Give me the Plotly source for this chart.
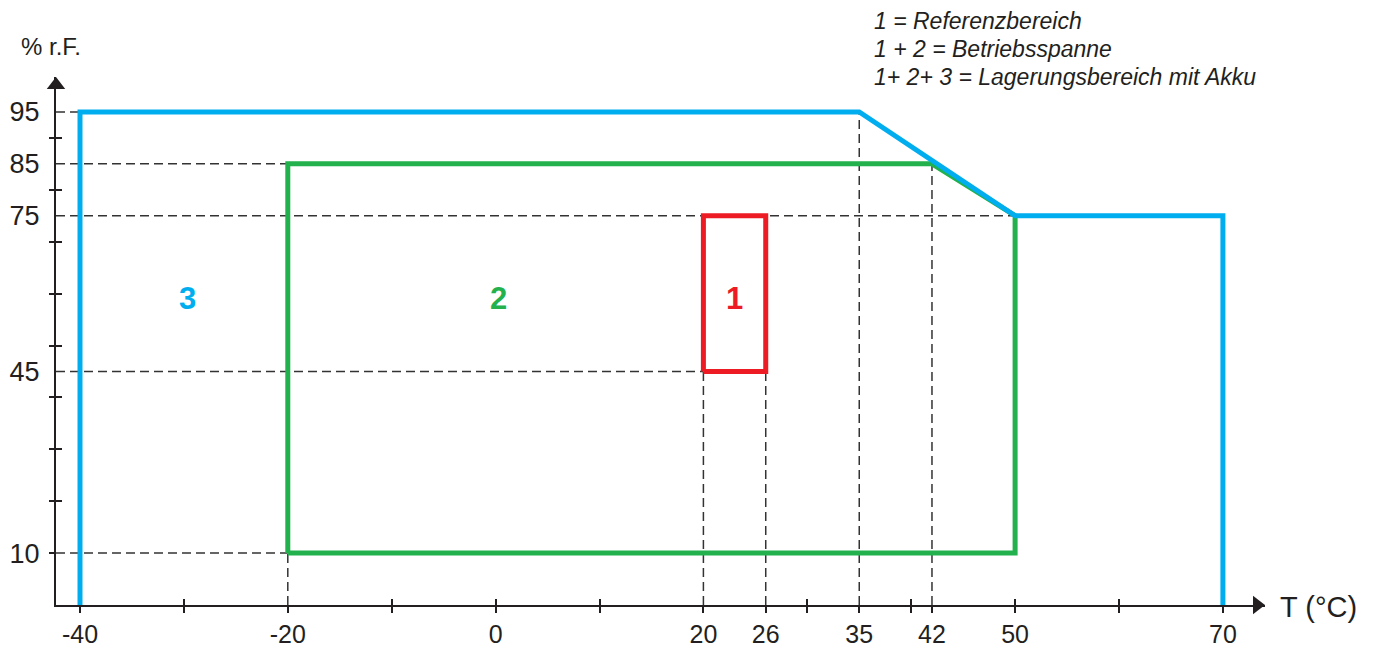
import plotly.graph_objects as go

# --- data ---
temp_labels = [-40, -20, 0, 20, 26, 35, 42, 50, 70]
temp_minor = [-30, -10, 10, 30, 40, 60]
rh_labels = [10, 45, 75, 85, 95]
rh_minor = [20, 30, 40, 50, 60, 70, 80, 90]

# zone 3: storage with battery (blue)
zone3_t = [-40, -40, 35, 50, 70, 70]
zone3_rh = [0, 95, 95, 75, 75, 0]
# zone 2: operating range (green)
zone2_t = [-20, -20, 42, 50, 50, -20]
zone2_rh = [10, 85, 85, 75, 10, 10]
# zone 1: reference range (red)
zone1_t = [20, 20, 26, 26, 20]
zone1_rh = [45, 75, 75, 45, 45]

# dashed guide lines: horizontal (rh -> until t), vertical (t -> up to rh)
guide_h = [(95, -40), (85, -20), (75, 50), (45, 20), (10, -20)]
guide_v = [(-20, 10), (20, 45), (26, 45), (35, 95), (42, 85)]

zone_labels = [("3", -29.7, 59, "#00AEEF"), ("2", 0.3, 59, "#22B14C"), ("1", 23, 59, "#ED1C24")]
legend_lines = ["1 = Referenzbereich", "1 + 2 = Betriebsspanne", "1+ 2+ 3 = Lagerungsbereich mit Akku"]

# --- layout geometry (pixels in the page; the body has an 8px margin) ---
PAGE_OFF = 8
W, H = 1374 - PAGE_OFF, 650 - PAGE_OFF
L, R, T, B = 56, 1265, 77, 605
px_per_t = 10.39
px_per_rh = 5.19
x_rng = [-40 + (L - 80) / px_per_t, -40 + (R - 80) / px_per_t]
y_rng = [0, (B - T) / px_per_rh]

FONT = "Liberation Sans, Arial, sans-serif"
INK = "#231F20"


def paper_x(px):
    return (px - L) / (R - L)


def paper_y(py):
    return (B - py) / (B - T)


fig = go.Figure()

# dashed guides
gx, gy = [], []
for rh, t_end in guide_h:
    gx += [x_rng[0], t_end, None]
    gy += [rh, rh, None]
for t, rh_top in guide_v:
    gx += [t, t, None]
    gy += [0, rh_top, None]
fig.add_trace(go.Scatter(x=gx, y=gy, mode="lines",
                         line=dict(color="#333333", width=1.5, dash="9px,5px")))

fig.add_trace(go.Scatter(x=zone2_t, y=zone2_rh, mode="lines",
                         line=dict(color="#22B14C", width=5)))
fig.add_trace(go.Scatter(x=zone3_t, y=zone3_rh, mode="lines",
                         line=dict(color="#00AEEF", width=5)))
fig.add_trace(go.Scatter(x=zone1_t, y=zone1_rh, mode="lines",
                         line=dict(color="#ED1C24", width=5)))

# axis arrowheads
fig.add_trace(go.Scatter(x=[x_rng[1] - 8 / px_per_t], y=[0], mode="markers", cliponaxis=False,
                         marker=dict(symbol="triangle-right", size=16, color=INK)))
fig.add_trace(go.Scatter(x=[x_rng[0]], y=[y_rng[1] - 8 / px_per_rh], mode="markers", cliponaxis=False,
                         marker=dict(symbol="triangle-up", size=16, color=INK)))

# dummy traces so the overlay tick axes get drawn
fig.add_trace(go.Scatter(x=[None], y=[None], xaxis="x2", yaxis="y"))
fig.add_trace(go.Scatter(x=[None], y=[None], xaxis="x", yaxis="y2"))
fig.add_trace(go.Scatter(x=[None], y=[None], xaxis="x", yaxis="y3"))

for txt, t, rh, col in zone_labels:
    fig.add_annotation(x=t, y=rh, text="<b>%s</b>" % txt, showarrow=False,
                       font=dict(family=FONT, size=31, color=col))

for i, line in enumerate(legend_lines):
    fig.add_annotation(xref="paper", yref="paper", x=paper_x(872), y=paper_y(21 + 28 * i),
                       xanchor="left", yanchor="middle", showarrow=False,
                       text="<i>%s</i>" % line, font=dict(family=FONT, size=23, color=INK))

fig.add_annotation(xref="paper", yref="paper", x=paper_x(51), y=paper_y(47),
                   xanchor="center", yanchor="middle", showarrow=False,
                   text="% r.F.", font=dict(family=FONT, size=24, color=INK))
fig.add_annotation(xref="paper", yref="paper", x=paper_x(1278), y=paper_y(607),
                   xanchor="left", yanchor="middle", showarrow=False,
                   text="T (°C)", font=dict(family=FONT, size=29, color=INK))

x_all = temp_labels + temp_minor
fig.update_layout(
    width=W, height=H,
    margin=dict(l=L - PAGE_OFF, r=1374 - R, t=T - PAGE_OFF, b=650 - B, autoexpand=False),
    paper_bgcolor="white", plot_bgcolor="white",
    showlegend=False, hovermode=False,
    xaxis=dict(range=x_rng, showgrid=False, zeroline=False, automargin=False,
               showline=True, linecolor=INK, linewidth=2,
               tickmode="array", tickvals=x_all,
               ticktext=[str(v) for v in temp_labels] + [""] * len(temp_minor),
               ticks="outside", ticklen=6, tickwidth=1.5, tickcolor=INK,
               ticklabelstandoff=0,
               tickfont=dict(family=FONT, size=25, color=INK)),
    xaxis2=dict(range=x_rng, overlaying="x", anchor="y", side="bottom", automargin=False,
                showgrid=False, zeroline=False, showline=False,
                tickmode="array", tickvals=temp_minor + [0, 50],
                ticks="inside", ticklen=6, tickwidth=1.5, tickcolor=INK,
                showticklabels=False),
    yaxis=dict(range=y_rng, showgrid=False, zeroline=False, automargin=False,
               showline=True, linecolor=INK, linewidth=2,
               tickmode="array", tickvals=rh_labels,
               ticktext=[str(v) for v in rh_labels],
               ticks="", ticklabelstandoff=9,
               tickfont=dict(family=FONT, size=27, color=INK)),
    yaxis2=dict(range=y_rng, overlaying="y", anchor="x", side="left", automargin=False,
                showgrid=False, zeroline=False, showline=False,
                tickmode="array", tickvals=[10] + rh_minor,
                ticks="outside", ticklen=6, tickwidth=1.5, tickcolor=INK,
                showticklabels=False),
    yaxis3=dict(range=y_rng, overlaying="y", anchor="x", side="left", automargin=False,
                showgrid=False, zeroline=False, showline=False,
                tickmode="array", tickvals=rh_minor,
                ticks="inside", ticklen=6, tickwidth=1.5, tickcolor=INK,
                showticklabels=False),
)

fig.write_html("out.html")
